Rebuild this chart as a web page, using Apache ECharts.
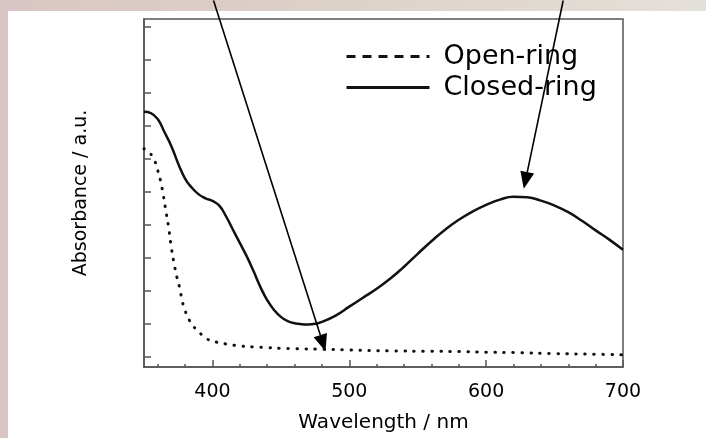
<!DOCTYPE html>
<html>
<head>
<meta charset="utf-8">
<title>Absorbance spectra</title>
<script src="https://cdn.jsdelivr.net/npm/echarts@6/dist/echarts.min.js"></script>
<style>
	html, body { margin: 0; padding: 0; background: #fff; }
	#chart { width: 706px; height: 438px; }
</style>
</head>
<body>
<div id="chart"></div>
<script>
const openWavelength = [350, 352, 354, 356, 358, 360, 362, 364, 366, 368, 370, 372, 374, 376, 378, 380, 383, 386, 390, 395, 400, 405, 410, 420, 430, 440, 450, 460, 480, 500, 530, 560, 580, 600, 620, 650, 680, 700];
const openAbsorbance = [6.30, 6.26, 6.18, 6.08, 5.92, 5.65, 5.35, 4.92, 4.42, 3.92, 3.30, 2.82, 2.42, 2.10, 1.68, 1.40, 1.12, 0.93, 0.76, 0.57, 0.48, 0.43, 0.39, 0.33, 0.30, 0.28, 0.26, 0.25, 0.23, 0.21, 0.18, 0.17, 0.16, 0.14, 0.13, 0.10, 0.08, 0.06];

const closedWavelength = [350, 355, 360, 365, 370, 375, 380, 385, 390, 395, 400, 405, 410, 415, 420, 425, 430, 435, 440, 445, 450, 455, 460, 465, 470, 475, 480, 490, 500, 510, 520, 530, 540, 550, 560, 570, 580, 590, 600, 610, 620, 630, 640, 650, 660, 670, 680, 690, 700];
const closedAbsorbance = [7.42, 7.38, 7.20, 6.80, 6.38, 5.85, 5.40, 5.12, 4.92, 4.80, 4.72, 4.58, 4.25, 3.85, 3.45, 3.05, 2.60, 2.12, 1.72, 1.42, 1.21, 1.08, 1.02, 0.99, 0.98, 1.00, 1.06, 1.25, 1.52, 1.79, 2.06, 2.37, 2.73, 3.12, 3.50, 3.85, 4.15, 4.40, 4.60, 4.76, 4.85, 4.83, 4.73, 4.58, 4.38, 4.12, 3.83, 3.55, 3.24];

const majorTicks = [400, 500, 600, 700];
const minorTicks = [360, 380, 420, 440, 460, 480, 520, 540, 560, 580, 620, 640, 660, 680];
const yTicks = [0, 1, 2, 3, 4, 5, 6, 7, 8, 9, 10];

// annotation arrows, in data units: [fromX, fromY, toX, toY]
const arrows = [
	[400.8, 10.79, 482.6, 0.17],
	[656.3, 10.79, 627.5, 5.09]
];

const FONT = 'DejaVu Sans';
const AXIS_COLOR = '#555';
const TEXT_COLOR = '#000';

function pairs(xs, ys) {
	return xs.map((x, i) => [x, ys[i]]);
}

const chart = echarts.init(document.getElementById('chart'));

chart.setOption({
	animation: false,
	backgroundColor: '#fff',
	grid: {
		left: 144, top: 19, width: 479, height: 354,
		show: true, borderColor: AXIS_COLOR, borderWidth: 1.5, backgroundColor: 'transparent'
	},
	legend: {
		left: 345, top: 43, orient: 'vertical', padding: 0,
		itemWidth: 83, itemHeight: 14, itemGap: 4,
		selectedMode: false,
		itemStyle: { opacity: 0 },
		lineStyle: { width: 3, cap: 'butt' },
		textStyle: { fontFamily: FONT, fontSize: 27, color: TEXT_COLOR, padding: [0, 0, 0, 9] },
		data: [
			{ name: 'Open-ring', lineStyle: { type: [9, 7], width: 3, cap: 'butt' } },
			{ name: 'Closed-ring', lineStyle: { type: 'solid', width: 3 } }
		]
	},
	xAxis: [{
		type: 'value', min: 350, max: 700,
		name: 'Wavelength / nm', nameLocation: 'middle', nameGap: 46,
		nameTextStyle: { fontFamily: FONT, fontSize: 20, color: TEXT_COLOR },
		axisLine: { onZero: false, lineStyle: { color: AXIS_COLOR, width: 1.5 } },
		axisTick: { inside: true, length: 7, customValues: majorTicks, lineStyle: { color: AXIS_COLOR, width: 1.5 } },
		axisLabel: { customValues: majorTicks, margin: 16, fontFamily: FONT, fontSize: 19, color: TEXT_COLOR },
		splitLine: { show: false }
	}, {
		type: 'value', min: 350, max: 700, position: 'bottom',
		axisLine: { show: false, onZero: false },
		axisTick: { inside: true, length: 3, customValues: minorTicks, lineStyle: { color: AXIS_COLOR, width: 1.5 } },
		axisLabel: { show: false },
		splitLine: { show: false }
	}],
	yAxis: {
		type: 'value', min: -0.307, max: 10.23,
		name: 'Absorbance / a.u.', nameLocation: 'middle', nameGap: 53,
		nameTextStyle: { fontFamily: FONT, fontSize: 19, color: TEXT_COLOR },
		axisLine: { onZero: false, lineStyle: { color: AXIS_COLOR, width: 1.5 } },
		axisTick: { inside: true, length: 7, customValues: yTicks, lineStyle: { color: AXIS_COLOR, width: 1.5 } },
		axisLabel: { show: false },
		splitLine: { show: false }
	},
	series: [{
		name: 'Open-ring', type: 'line', xAxisIndex: 0,
		data: pairs(openWavelength, openAbsorbance),
		showSymbol: false, smooth: 0.5,
		lineStyle: { color: '#111', width: 3, type: [0.5, 8.5], cap: 'round' },
		itemStyle: { color: '#111' }
	}, {
		name: 'Closed-ring', type: 'line', xAxisIndex: 0,
		data: pairs(closedWavelength, closedAbsorbance),
		showSymbol: false, smooth: 0.5,
		lineStyle: { color: '#111', width: 2.5 },
		itemStyle: { color: '#111' }
	}]
});

// background band plus the arrows pointing at the two curves
function arrowGraphics(arrow) {
	const from = chart.convertToPixel({ seriesIndex: 0 }, [arrow[0], arrow[1]]);
	const to = chart.convertToPixel({ seriesIndex: 0 }, [arrow[2], arrow[3]]);
	const dx = to[0] - from[0], dy = to[1] - from[1];
	const len = Math.sqrt(dx * dx + dy * dy);
	const ux = dx / len, uy = dy / len;
	const headLen = 17, headHalf = 7;
	const bx = to[0] - ux * headLen, by = to[1] - uy * headLen;
	return [{
		type: 'line', z: 100,
		shape: { x1: from[0], y1: from[1], x2: bx, y2: by },
		style: { stroke: '#000', lineWidth: 1.6 }
	}, {
		type: 'polygon', z: 100,
		shape: { points: [to, [bx - uy * headHalf, by + ux * headHalf], [bx + uy * headHalf, by - ux * headHalf]] },
		style: { fill: '#000' }
	}];
}

chart.setOption({
	graphic: [{
		type: 'rect', z: -10, silent: true,
		shape: { x: 0, y: 0, width: 706, height: 438 },
		style: { fill: new echarts.graphic.LinearGradient(0, 0, 1, 0, [
			{ offset: 0, color: '#d9c6c4' },
			{ offset: 0.5, color: '#ddd2c8' },
			{ offset: 1, color: '#e4e0da' }
		]) }
	}, {
		type: 'rect', z: -9, silent: true,
		shape: { x: 8, y: 11, width: 698, height: 427 },
		style: { fill: '#fff' }
	}].concat(...arrows.map(arrowGraphics))
});

window.addEventListener('resize', () => chart.resize());
</script>
</body>
</html>
